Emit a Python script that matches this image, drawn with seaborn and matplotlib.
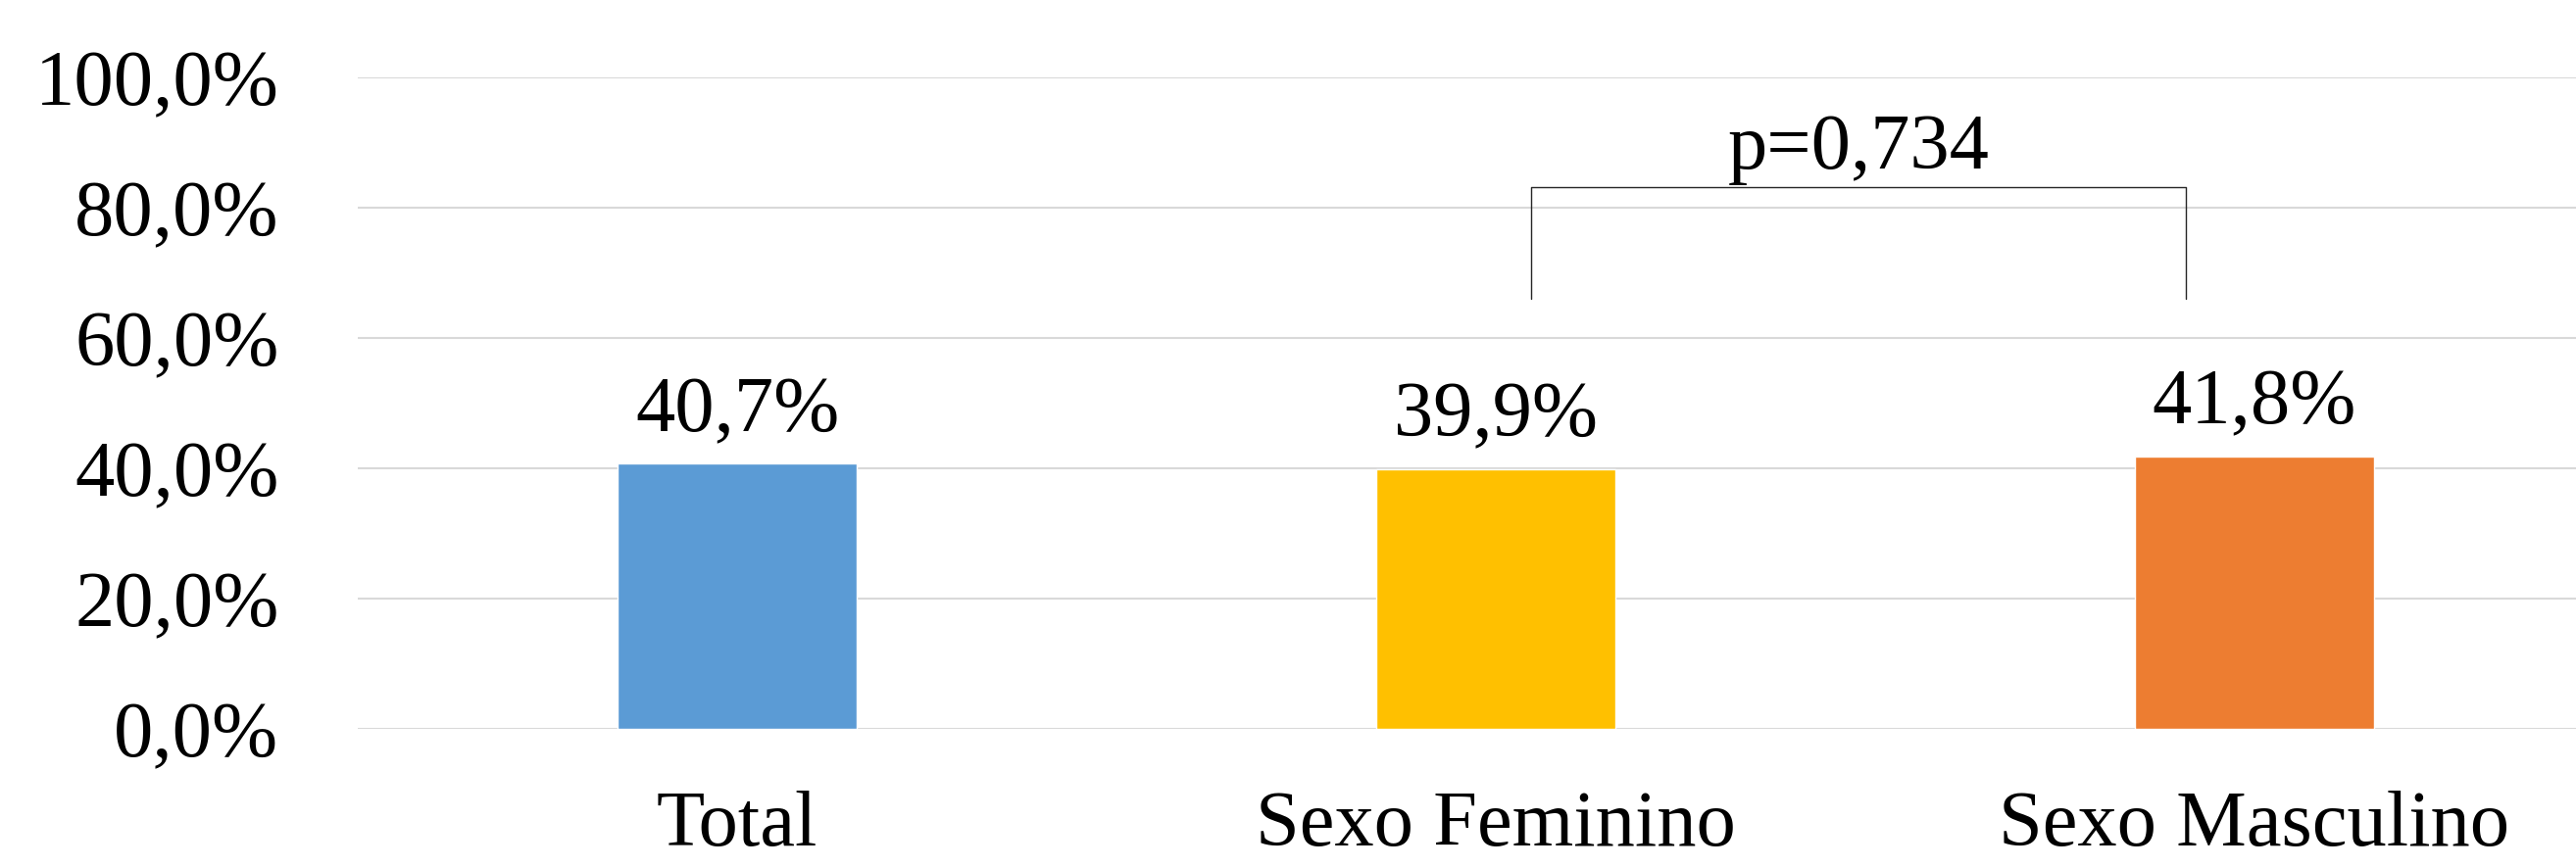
import matplotlib
matplotlib.use("Agg")
import matplotlib.pyplot as plt
import seaborn as sns

# Data
categories = ["Total", "Sexo Feminino", "Sexo Masculino"]
values = [40.7, 39.9, 41.8]
colors = ["#5B9BD5", "#FFC000", "#ED7D31"]
y_ticks = [0, 20, 40, 60, 80, 100]
p_text = "p=0,734"

sns.set_theme(style="white")
plt.rcParams['font.family'] = ['Liberation Serif', 'DejaVu Serif']
plt.rcParams['text.color'] = 'black'
plt.rcParams['xtick.color'] = 'black'
plt.rcParams['ytick.color'] = 'black'

fig = plt.figure(figsize=(26.28, 8.86), dpi=100)
ax = fig.add_axes([365 / 2628, 142 / 886, 2322 / 2628, 665 / 886])

sns.barplot(x=categories, y=values, hue=categories, palette=colors,
            width=0.314, legend=False, ax=ax, saturation=1, zorder=2)

ax.set_xlim(-0.5, 2.5)
ax.set_ylim(0, 100)
ax.set_yticks(y_ticks)
ax.set_yticklabels([f"{t:.1f}%".replace(".", ",") for t in y_ticks])
ax.yaxis.grid(True, color="#d9d9d9", linewidth=1.5, zorder=0)
ax.set_axisbelow(True)
for s in ax.spines.values():
    s.set_visible(False)
ax.tick_params(axis="y", length=0, pad=58, labelsize=58, labelcolor="black")
ax.tick_params(axis="x", length=0, pad=45, labelsize=58, labelcolor="black")
ax.set_xlabel("")
ax.set_ylabel("")

# value labels
for i, v in enumerate(values):
    ax.annotate(f"{v:.1f}%".replace(".", ","), (i, v), xytext=(0, 24),
                textcoords="offset points", ha="center", va="baseline",
                fontsize=58, color="black")

# significance bracket
bx0, bx1, by_top, by_bot = 1.047, 1.910, 83.2, 66.0
ax.plot([bx0, bx0, bx1, bx1], [by_bot, by_top, by_top, by_bot],
        color="#262626", linewidth=1.0, zorder=3)
ax.text((bx0 + bx1) / 2, by_top + 2.8, p_text, ha="center", va="baseline",
        fontsize=58, color="black")

fig.savefig("out.png", dpi=100)
